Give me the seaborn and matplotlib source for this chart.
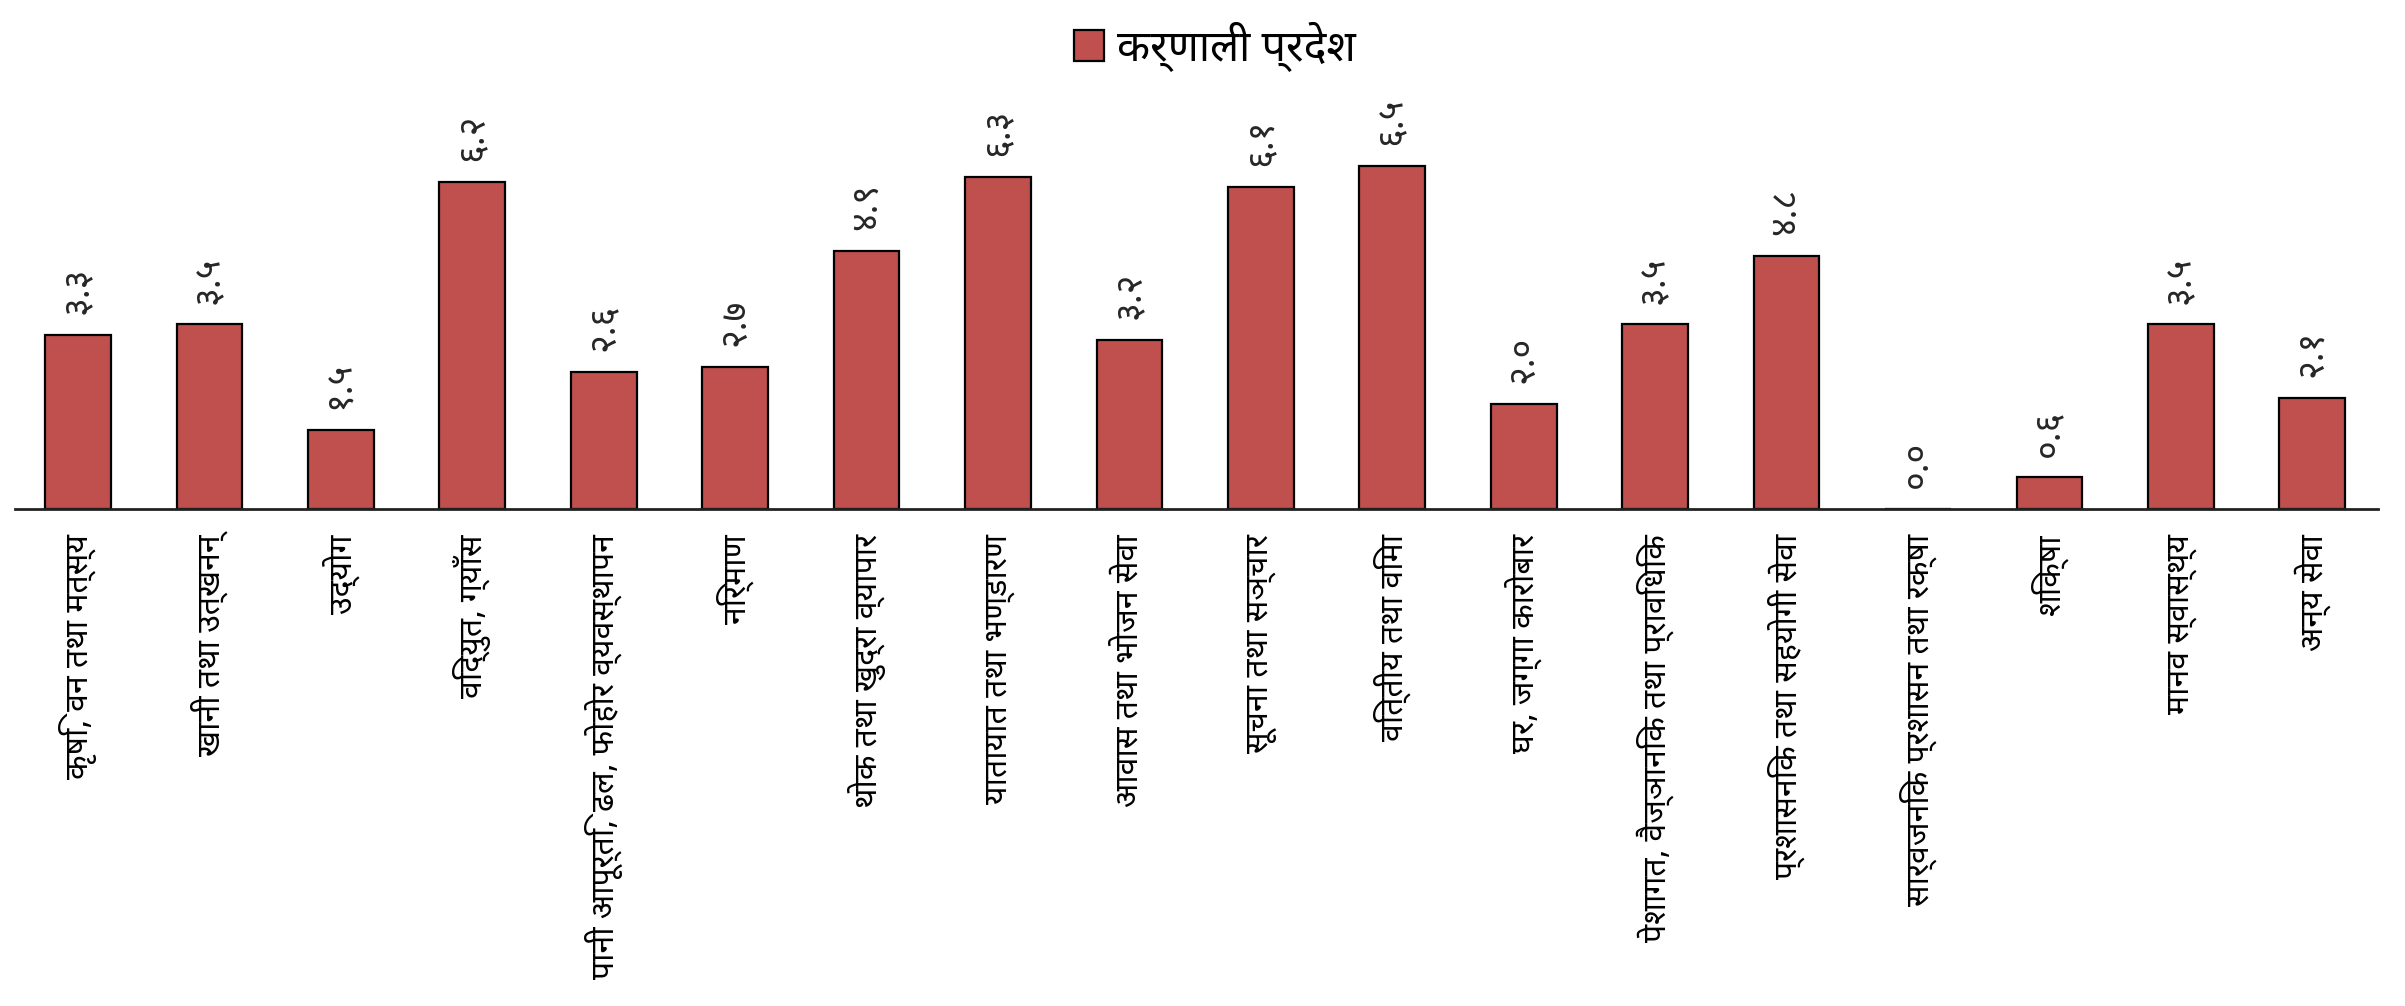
import matplotlib
matplotlib.use("Agg")
import matplotlib.pyplot as plt
import pandas as pd
import seaborn as sns

# data
sectors = [
    "कृषि, वन तथा मत्स्य",
    "खानी तथा उत्खनन्",
    "उद्योग",
    "विद्युत, ग्याँस",
    "पानी आपूर्ति, ढल, फोहोर व्यवस्थापन",
    "निर्माण",
    "थोक तथा खुद्रा व्यापार",
    "यातायात तथा भण्डारण",
    "आवास तथा भोजन सेवा",
    "सूचना तथा सञ्चार",
    "वित्तीय तथा विमा",
    "घर, जग्गा कारोबार",
    "पेशागत, वैज्ञानिक तथा प्राविधिक",
    "प्रशासनिक तथा सहयोगी सेवा",
    "सार्वजनिक प्रशासन तथा रक्षा",
    "शिक्षा",
    "मानव स्वास्थ्य",
    "अन्य सेवा",
]
values = [3.3, 3.5, 1.5, 6.2, 2.6, 2.7, 4.9, 6.3, 3.2, 6.1, 6.5, 2.0, 3.5, 4.8, 0.0, 0.6, 3.5, 2.1]
region = "कर्णाली प्रदेश"
bar_color = "#C0504D"

to_nepali = str.maketrans("0123456789", "०१२३४५६७८९")

df = pd.DataFrame({"sector": sectors, "value": values, "region": region})

sns.set_theme(style="white")
plt.rcParams["font.family"] = ["Noto Sans Devanagari", "DejaVu Sans"]

fig = plt.figure(figsize=(24.05, 10.06), dpi=100)
ax = fig.add_axes([15 / 2405, 1 - 509 / 1006, (2378 - 15) / 2405, 509 / 1006])

sns.barplot(
    data=df, x="sector", y="value", hue="region",
    palette=[bar_color], saturation=1, width=0.5,
    edgecolor="black", linewidth=1.6, ax=ax,
)

labels = [f"{v:.1f}".translate(to_nepali) for v in values]
ax.bar_label(ax.containers[0], labels=labels, rotation=90, padding=15, fontsize=26)

ax.set_xlim(-0.48, 17.5)
ax.set_ylim(0, 9.65)
ax.set_xlabel("")
ax.set_ylabel("")
ax.set_yticks([])
ax.tick_params(axis="x", length=0, pad=18, labelsize=23, labelcolor="black")
for lab in ax.get_xticklabels():
    lab.set_rotation(90)
    lab.set_va("top")
    lab.set_ha("center")

for side in ["top", "left", "right"]:
    ax.spines[side].set_visible(False)
ax.spines["bottom"].set_color("#222222")
ax.spines["bottom"].set_linewidth(2)

sns.move_legend(
    ax, "upper center", bbox_to_anchor=(0.505, 1.0), bbox_transform=fig.transFigure,
    frameon=False, title=None, fontsize=31, handlelength=0.7, handleheight=0.7,
    handletextpad=0.3, borderaxespad=0.1,
)
for t in ax.get_legend().get_texts():
    t.set_color("black")

fig.savefig("out.png", dpi=100)
